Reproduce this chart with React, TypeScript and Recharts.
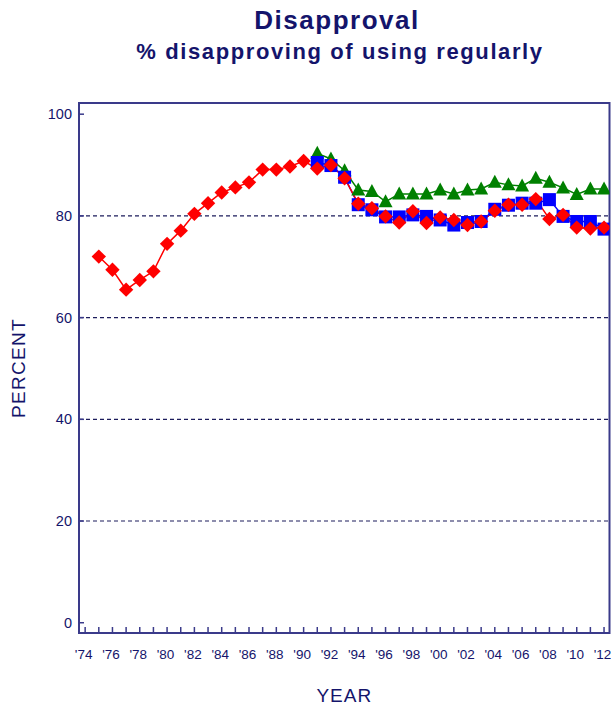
import React from 'react';
import { LineChart, Line, XAxis, YAxis, ReferenceLine, ReferenceArea } from 'recharts';

const years = [1975,1976,1977,1978,1979,1980,1981,1982,1983,1984,1985,1986,1987,1988,1989,1990,1991,1992,1993,1994,1995,1996,1997,1998,1999,2000,2001,2002,2003,2004,2005,2006,2007,2008,2009,2010,2011,2012];
const grade12 = [72.0,69.4,65.5,67.4,69.1,74.5,77.1,80.4,82.5,84.6,85.6,86.6,89.1,89.1,89.7,90.8,89.3,90.0,87.4,82.4,81.5,79.9,78.7,80.9,78.6,79.7,79.2,78.2,78.9,81.0,82.2,82.2,83.3,79.4,80.2,77.7,77.5,77.7];
const grade10Start = 1991;
const grade10 = [90.5,89.9,87.6,82.2,81.2,79.8,79.8,80.2,79.9,79.2,78.2,78.7,78.9,81.3,82.1,82.5,82.5,83.2,79.9,78.9,78.9,77.4];
const grade8Start = 1991;
const grade8 = [92.3,91.2,88.9,85.1,84.8,82.8,84.3,84.3,84.3,85.1,84.3,85.1,85.3,86.6,86.1,85.9,87.4,86.6,85.5,84.2,85.3,85.3];
const xTicks = [1974,1975,1976,1977,1978,1979,1980,1981,1982,1983,1984,1985,1986,1987,1988,1989,1990,1991,1992,1993,1994,1995,1996,1997,1998,1999,2000,2001,2002,2003,2004,2005,2006,2007,2008,2009,2010,2011,2012];
const yTicks = [0,20,40,60,80,100];
const gridValues = [20,40,60,80];
const xDomain = [1973.55, 2012.4];
const yDomain = [-2.02, 102.2];

const data = years.map((y, i) => ({
  year: y,
  g12: grade12[i],
  g10: y >= grade10Start ? grade10[y - grade10Start] : null,
  g8: y >= grade8Start ? grade8[y - grade8Start] : null,
}));

const NAVY = '#14146b';
const AXIS = '#3a3a8a';
const FONT = '"Liberation Sans", Arial, sans-serif';

const Diamond = (p: any) => {
  const { cx, cy, index } = p;
  if (cx == null || cy == null) return <g key={`dm-${index}`} />;
  const r = 7.2;
  return <polygon key={`dm-${index}`} points={`${cx},${cy - r} ${cx + r},${cy} ${cx},${cy + r} ${cx - r},${cy}`} fill="#ff0000" stroke="none" />;
};
const Square = (p: any) => {
  const { cx, cy, index } = p;
  if (cx == null || cy == null) return <g key={`sq-${index}`} />;
  const h = 6.5;
  return <rect key={`sq-${index}`} x={cx - h} y={cy - h} width={2 * h} height={2 * h} fill="#0000ff" stroke="none" />;
};
const Tri = (p: any) => {
  const { cx, cy, index } = p;
  if (cx == null || cy == null) return <g key={`tr-${index}`} />;
  return <polygon key={`tr-${index}`} points={`${cx},${cy - 7.5} ${cx + 7},${cy + 5.5} ${cx - 7},${cy + 5.5}`} fill="#008000" stroke="none" />;
};

const XTick = (p: any) => {
  const { x, y, payload } = p;
  const v = payload.value;
  const show = v % 2 === 0;
  const lbl = "'" + String(v).slice(2);
  return (
    <g>
      <line x1={x} x2={x} y1={y} y2={y - 6} stroke={AXIS} strokeWidth={1.5} />
      {show && (
        <text x={x - 1.5} y={y + 26} textAnchor="middle" fill={NAVY} fontSize={13.5} fontFamily={FONT}>{lbl}</text>
      )}
    </g>
  );
};

const YTick = (p: any) => {
  const { x, y, payload } = p;
  return (
    <g>
      <line x1={x} x2={x + 5} y1={y} y2={y} stroke={AXIS} strokeWidth={1.5} />
      <text x={x - 7} y={y + 5} textAnchor="end" fill={NAVY} fontSize={14.5} fontFamily={FONT}>{payload.value}</text>
    </g>
  );
};

export default function App() {
  return (
    <div style={{ position: 'absolute', left: 0, top: 0, width: 611, height: 706, background: '#fff', fontFamily: FONT }}>
      <div style={{ position: 'absolute', left: 337, top: 7.3, transform: 'translateX(-50%)', whiteSpace: 'nowrap', fontSize: 26, lineHeight: '26px', fontWeight: 'bold', color: NAVY, letterSpacing: 1.5 }}>Disapproval</div>
      <div style={{ position: 'absolute', left: 340, top: 40.7, transform: 'translateX(-50%)', whiteSpace: 'nowrap', fontSize: 22, lineHeight: '22px', fontWeight: 'bold', color: NAVY, letterSpacing: 1.6 }}>% disapproving of using regularly</div>
      <div style={{ position: 'absolute', left: 0, top: 0 }}>
        <LineChart width={611} height={706} data={data} margin={{ top: 103, right: 1.5, left: 0, bottom: 0 }}>
          <XAxis
            dataKey="year"
            type="number"
            domain={xDomain}
            ticks={xTicks}
            interval={0}
            allowDataOverflow
            height={73}
            tickSize={0}
            tickMargin={0}
            tick={<XTick />}
            tickLine={false}
            axisLine={{ stroke: AXIS, strokeWidth: 2 }}
            label={{
              content: (lp: any) => {
                const vb = lp.viewBox;
                return <text x={vb.x + vb.width / 2} y={vb.y + 68.7} textAnchor="middle" fill={NAVY} fontSize={19} fontFamily={FONT} letterSpacing={1}>YEAR</text>;
              },
            }}
          />
          <YAxis
            type="number"
            domain={yDomain}
            ticks={yTicks}
            interval={0}
            allowDataOverflow
            width={79}
            tickSize={0}
            tickMargin={0}
            tick={<YTick />}
            tickLine={false}
            axisLine={{ stroke: AXIS, strokeWidth: 2 }}
            label={{
              content: (lp: any) => {
                const vb = lp.viewBox;
                const cx = vb.x + 25;
                const cy = vb.y + vb.height / 2;
                return <text x={cx} y={cy} transform={`rotate(-90, ${cx}, ${cy})`} textAnchor="middle" fill={NAVY} fontSize={19} fontFamily={FONT} letterSpacing={1.3}>PERCENT</text>;
              },
            }}
          />
          {gridValues.map((g) => (
            <ReferenceLine key={g} y={g} stroke="#1c1c5c" strokeDasharray="4 3" strokeWidth={1.2} />
          ))}
          <ReferenceArea x1={xDomain[0]} x2={xDomain[1]} y1={yDomain[0]} y2={yDomain[1]} fill="none" stroke={AXIS} strokeWidth={2} ifOverflow="visible" />
          <Line dataKey="g8" stroke="#008000" strokeWidth={1.5} dot={Tri} activeDot={false} isAnimationActive={false} connectNulls={false} />
          <Line dataKey="g10" stroke="#0000ff" strokeWidth={1.5} dot={Square} activeDot={false} isAnimationActive={false} connectNulls={false} />
          <Line dataKey="g12" stroke="#ff0000" strokeWidth={1.5} dot={Diamond} activeDot={false} isAnimationActive={false} />
        </LineChart>
      </div>
    </div>
  );
}
